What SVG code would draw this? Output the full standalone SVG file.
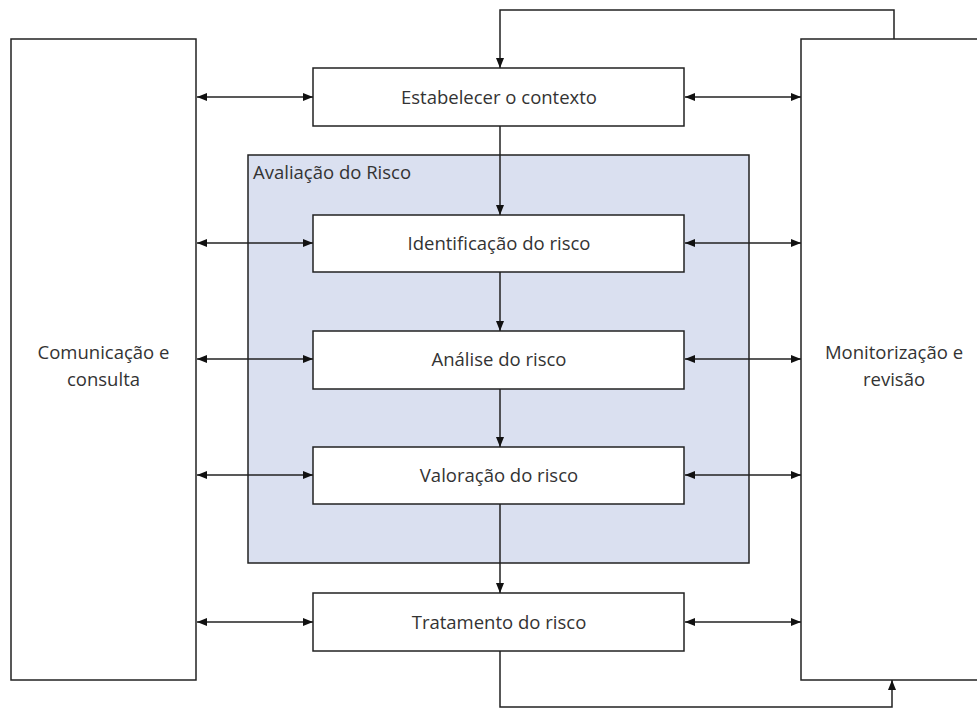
<svg xmlns="http://www.w3.org/2000/svg" width="977" height="709" viewBox="0 0 977 709">
<defs>
<marker id="ah" viewBox="0 0 10 10" refX="10" refY="5" markerWidth="10" markerHeight="10" markerUnits="userSpaceOnUse" orient="auto-start-reverse">
<path d="M0,1 L10,5 L0,9 Z" fill="#111"/>
</marker>
<style>
.box{fill:#fff;stroke:#222;stroke-width:1.5}
.grp{fill:#dae0f0;stroke:#222;stroke-width:1.5}
.lbl{font-family:"Open Sans","Liberation Sans",sans-serif;font-size:18.5px;fill:#333;text-anchor:middle}
.side{font-family:"Open Sans","Liberation Sans",sans-serif;font-size:18.5px;fill:#333;text-anchor:middle}
.con{fill:none;stroke:#222;stroke-width:1.5}
</style>
</defs>
<rect width="977" height="709" fill="#fff"/>
<g id="comunicacao">
<rect class="box" x="11" y="39" width="185" height="641"/>
<text class="side" x="103.5" y="359">Comunicação e</text>
<text class="side" x="103.5" y="386">consulta</text>
</g>
<g id="monitorizacao">
<rect class="box" x="801" y="39" width="190" height="641"/>
<text class="side" x="894" y="359">Monitorização e</text>
<text class="side" x="894" y="386">revisão</text>
</g>
<g id="avaliacao">
<rect class="grp" x="248" y="155" width="501" height="408"/>
<text class="lbl" x="253" y="179" style="text-anchor:start">Avaliação do Risco</text>
</g>
<g id="estabelecer">
<rect class="box" x="313" y="68" width="371" height="58"/>
<text class="lbl" x="499" y="104">Estabelecer o contexto</text>
</g>
<g id="identificacao">
<rect class="box" x="313" y="215" width="371" height="57"/>
<text class="lbl" x="499" y="250">Identificação do risco</text>
</g>
<g id="analise">
<rect class="box" x="313" y="331" width="371" height="58"/>
<text class="lbl" x="499" y="366">Análise do risco</text>
</g>
<g id="valoracao">
<rect class="box" x="313" y="447" width="371" height="57"/>
<text class="lbl" x="499" y="482">Valoração do risco</text>
</g>
<g id="tratamento">
<rect class="box" x="313" y="593" width="371" height="58"/>
<text class="lbl" x="499" y="629">Tratamento do risco</text>
</g>
<g id="connectors">
<line class="con" x1="197" y1="97" x2="313" y2="97" marker-start="url(#ah)" marker-end="url(#ah)"/>
<line class="con" x1="197" y1="243" x2="313" y2="243" marker-start="url(#ah)" marker-end="url(#ah)"/>
<line class="con" x1="197" y1="359" x2="313" y2="359" marker-start="url(#ah)" marker-end="url(#ah)"/>
<line class="con" x1="197" y1="475" x2="313" y2="475" marker-start="url(#ah)" marker-end="url(#ah)"/>
<line class="con" x1="197" y1="622" x2="313" y2="622" marker-start="url(#ah)" marker-end="url(#ah)"/>
<line class="con" x1="685" y1="97" x2="801" y2="97" marker-start="url(#ah)" marker-end="url(#ah)"/>
<line class="con" x1="685" y1="243" x2="801" y2="243" marker-start="url(#ah)" marker-end="url(#ah)"/>
<line class="con" x1="685" y1="359" x2="801" y2="359" marker-start="url(#ah)" marker-end="url(#ah)"/>
<line class="con" x1="685" y1="475" x2="801" y2="475" marker-start="url(#ah)" marker-end="url(#ah)"/>
<line class="con" x1="685" y1="622" x2="801" y2="622" marker-start="url(#ah)" marker-end="url(#ah)"/>
<line class="con" x1="500" y1="126" x2="500" y2="215" marker-end="url(#ah)"/>
<line class="con" x1="500" y1="272" x2="500" y2="331" marker-end="url(#ah)"/>
<line class="con" x1="500" y1="389" x2="500" y2="447" marker-end="url(#ah)"/>
<line class="con" x1="500" y1="504" x2="500" y2="593" marker-end="url(#ah)"/>
<polyline class="con" points="894,39 894,10 500,10 500,68" marker-end="url(#ah)"/>
<polyline class="con" points="500,651 500,707 892,707 892,680" marker-end="url(#ah)"/>
</g>
</svg>
